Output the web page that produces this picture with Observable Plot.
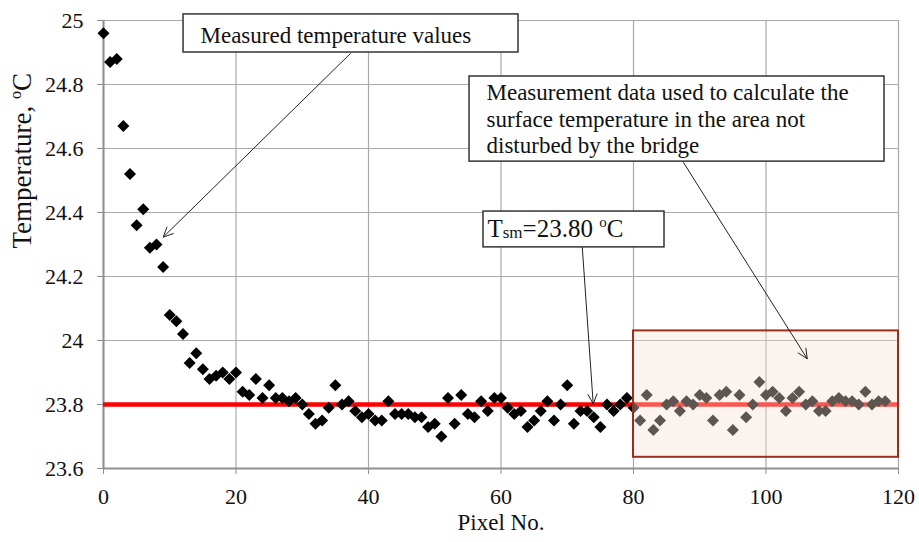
<!DOCTYPE html>
<html>
<head>
<meta charset="utf-8">
<script src="https://cdn.jsdelivr.net/npm/d3@7"></script>
<script src="https://cdn.jsdelivr.net/npm/@observablehq/plot@0.6"></script>
<style>
  body { margin: 0; background: #fff; }
  svg { display: block; }
  svg text { font-family: 'Liberation Serif', 'Times New Roman', serif !important; font-variant: normal !important; }
</style>
</head>
<body>
<div id="chart"></div>
<script>
// ---- data ----
const pixelNo = [
  0,1,2,3,4,5,6,7,8,9,10,11,12,13,14,15,16,17,18,19,
  20,21,22,23,24,25,26,27,28,29,30,31,32,33,34,35,36,37,38,39,
  40,41,42,43,44,45,46,47,48,49,50,51,52,53,54,55,56,57,58,59,
  60,61,62,63,64,65,66,67,68,69,70,71,72,73,74,75,76,77,78,79,
  80,81,82,83,84,85,86,87,88,89,90,91,92,93,94,95,96,97,98,99,
  100,101,102,103,104,105,106,107,108,109,110,111,112,113,114,115,116,117,118
];
const temperature = [
  24.96,24.87,24.88,24.67,24.52,24.36,24.41,24.29,24.30,24.23,
  24.08,24.06,24.02,23.93,23.96,23.91,23.88,23.89,23.90,23.88,
  23.90,23.84,23.83,23.88,23.82,23.86,23.82,23.82,23.81,23.82,
  23.80,23.77,23.74,23.75,23.79,23.86,23.80,23.81,23.78,23.76,
  23.77,23.75,23.75,23.81,23.77,23.77,23.77,23.76,23.76,23.73,
  23.74,23.70,23.82,23.74,23.83,23.77,23.76,23.81,23.78,23.82,
  23.82,23.79,23.77,23.78,23.73,23.75,23.78,23.81,23.75,23.80,
  23.86,23.74,23.78,23.78,23.76,23.73,23.80,23.78,23.80,23.82,
  23.79,23.75,23.83,23.72,23.75,23.80,23.81,23.78,23.81,23.80,
  23.83,23.82,23.75,23.83,23.84,23.72,23.83,23.76,23.80,23.87,
  23.83,23.84,23.82,23.78,23.82,23.84,23.80,23.81,23.78,23.78,
  23.81,23.82,23.81,23.81,23.80,23.84,23.80,23.81,23.81
];
const xTicks = [0, 20, 40, 60, 80, 100, 120];
const yTicks = [23.6, 23.8, 24, 24.2, 24.4, 24.6, 24.8, 25];
const tsmValue = 23.80;
const regionPixels = [80, 120];
const regionTemps = [23.635, 24.03];

const xLabel = "Pixel No.";
const yLabel = "Temperature, oC";

// annotation boxes / texts / arrows in data coordinates
const noteTexts = [
  "Measured temperature values",
  "Measurement data used to calculate the\nsurface temperature in the area not\ndisturbed by the bridge",
  "Tsm=23.80 oC"
];
const noteBoxX1 = [12.08, 55.25, 57.36];
const noteBoxX2 = [62.64, 117.89, 84.68];
const noteBoxY1 = [25.019, 24.825, 24.403];
const noteBoxY2 = [24.900, 24.559, 24.291];
const noteTextX = [14.64, 57.81, 57.95];
const noteTextY = [24.956, 24.694, 24.351];
const noteFont = [23, 23, 25];
const arrowX1 = [37.28, 87.55, 72.27];
const arrowY1 = [24.897, 24.556, 24.291];
const arrowX2 = [9.01, 106.22, 73.92];
const arrowY2 = [24.323, 23.943, 23.802];

// ---- build tables ----
const points = pixelNo.map((p, i) => ({p, t: temperature[i]}));
const notes = noteTexts.map((text, i) => ({
  text, bx1: noteBoxX1[i], bx2: noteBoxX2[i], by1: noteBoxY1[i], by2: noteBoxY2[i],
  tx: noteTextX[i], ty: noteTextY[i], fs: noteFont[i],
  ax1: arrowX1[i], ay1: arrowY1[i], ax2: arrowX2[i], ay2: arrowY2[i]
}));

const serif = "'Liberation Serif', 'Times New Roman', serif";

const chart = Plot.plot({
  width: 919,
  height: 542,
  marginLeft: 103,
  marginRight: 21,
  marginTop: 20,
  marginBottom: 74,
  style: {fontFamily: serif, fontSize: "22px", background: "#fff", color: "#111"},
  x: {domain: [0, 120], axis: null, label: null},
  y: {domain: [23.6, 25], axis: null, label: null},
  marks: [
    Plot.gridX(xTicks, {stroke: "#a9a9a9", strokeOpacity: 1, strokeWidth: 1.2}),
    Plot.gridY(yTicks, {stroke: "#a9a9a9", strokeOpacity: 1, strokeWidth: 1.2}),
    Plot.ruleY([23.6], {stroke: "#8f8f8f", strokeWidth: 2}),
    Plot.ruleX([0], {stroke: "#8f8f8f", strokeWidth: 2}),
    Plot.axisX(xTicks, {tickSize: 6, tickPadding: 14, stroke: "#8f8f8f", fontSize: 22, fontFamily: serif, label: null, tickFormat: d => String(d)}),
    Plot.axisY(yTicks, {tickSize: 6, tickPadding: 14, stroke: "#8f8f8f", fontSize: 22, fontFamily: serif, label: null, tickFormat: d => String(d)}),
    Plot.ruleY([tsmValue], {x1: 0, x2: 120, stroke: "#ff0000", strokeWidth: 4.5}),
    Plot.dot(points, {x: "p", y: "t", symbol: "diamond2", r: 5.4, fill: "#000", stroke: "none"}),
    Plot.rect([0], {x1: regionPixels[0], x2: regionPixels[1], y1: regionTemps[0], y2: regionTemps[1],
      fill: "rgb(245,225,210)", fillOpacity: 0.38, stroke: "#9c2d1c", strokeWidth: 2}),
    Plot.arrow(notes, {x1: "ax1", y1: "ay1", x2: "ax2", y2: "ay2", stroke: "#222", strokeWidth: 1, headLength: 16, headAngle: 50}),
    Plot.rect(notes, {x1: "bx1", x2: "bx2", y1: "by1", y2: "by2", fill: "#fff", stroke: "#333", strokeWidth: 1.5}),
    Plot.text(notes, {x: "tx", y: "ty", text: "text", fontSize: "fs", fontFamily: serif, textAnchor: "start", lineAnchor: "middle", lineHeight: 1.15, fill: "#111"}),
    Plot.text([xLabel], {frameAnchor: "bottom", dy: 61, fontSize: 23, fontFamily: serif, fill: "#111"}),
    Plot.text([yLabel], {frameAnchor: "left", dx: -81, dy: 4, rotate: -90, fontSize: 27, fontFamily: serif, fill: "#111"})
  ]
});

// superscripts / subscripts as real text
d3.select(chart).selectAll("text").each(function () {
  const t = this.textContent;
  const sel = d3.select(this);
  if (t === yLabel) {
    sel.text("");
    sel.append("tspan").text("Temperature, ");
    sel.append("tspan").text("o").attr("font-size", 16).attr("dy", -10);
    sel.append("tspan").text("C").attr("font-size", 27).attr("dy", 10);
  } else if (t === "Tsm=23.80 oC") {
    sel.text("");
    sel.append("tspan").text("T");
    sel.append("tspan").text("sm").attr("font-size", 17).attr("dy", 1);
    sel.append("tspan").text("=23.80 ").attr("font-size", 25).attr("dy", -1);
    sel.append("tspan").text("o").attr("font-size", 15).attr("dy", -10);
    sel.append("tspan").text("C").attr("font-size", 25).attr("dy", 10);
  }
});

document.getElementById("chart").appendChild(chart);
</script>
</body>
</html>
